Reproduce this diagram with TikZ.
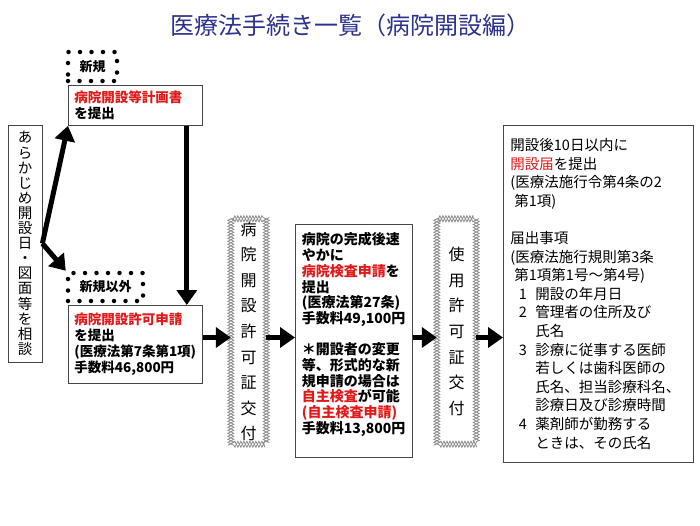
\documentclass[tikz,border=0pt]{standalone}
\usepackage{fontspec}
\setmainfont{Noto Sans CJK JP}
\usetikzlibrary{arrows.meta,positioning,decorations.pathmorphing}
\definecolor{titleblue}{RGB}{45,50,140}
\definecolor{applred}{RGB}{225,25,25}
\definecolor{framegray}{RGB}{70,70,70}
\definecolor{zaggray}{RGB}{140,140,140}

\begin{document}
\begin{tikzpicture}[x=1pt,y=-1pt,
  box/.style={draw=framegray,line width=0.8pt,fill=white,align=left,inner ysep=0pt},
  note/.style={box,font=\fontsize{13.5}{16}\selectfont\bfseries},
  dotbox/.style={draw,line width=4.5pt,dash pattern=on 0pt off 11.5pt,line cap=round,inner sep=0pt,font=\fontsize{13}{15}\selectfont\bfseries},
  zig/.style={draw=zaggray,line width=0.8pt,decorate,decoration={zigzag,amplitude=3pt,segment length=6pt}},
  zag/.style={zig,decoration={zigzag,amplitude=-3pt,segment length=6pt}},
  flow/.style={-{Triangle[length=15pt,width=20pt]},line width=5pt},
  upright/.style={font=\fontsize{16}{25.6}\selectfont,align=center,inner sep=0pt}]
\useasboundingbox (0,0) rectangle (700,525);

\node[font=\fontsize{24}{28}\selectfont,text=titleblue] (title) at (350,25) {医療法手続き一覧（病院開設編）};

% left column
\node[box,align=center,inner sep=0pt,minimum width=34pt,minimum height=237pt,font=\fontsize{14.5}{15.1}\selectfont] (soudan) at (25,243.5)
  {あ\\ら\\か\\じ\\め\\開\\設\\日\\・\\図\\面\\等\\を\\相\\談};
\node[dotbox,minimum width=49pt,minimum height=29pt] (shinki) at (92.5,66.5) {新規};
\node[note,anchor=north west,text width=122pt,inner xsep=6pt,minimum height=40pt] (keikaku) at (68,85)
  {{\color{applred}病院開設等計画書}\\を提出};
\node[dotbox,minimum width=75pt,minimum height=28pt] (igai) at (105.5,287) {新規以外};
\node[note,anchor=north west,text width=122pt,inner xsep=6pt,minimum height=78pt] (shinsei) at (68,305)
  {{\color{applred}病院開設許可申請}\\を提出\\(医療法第7条第1項)\\手数料46,800円};

% certificates (zigzag frames)
\node[upright,minimum width=35pt,minimum height=225pt] (kyoka) at (248.5,331.5)
  {病\\院\\開\\設\\許\\可\\証\\交\\付};
\draw[zig] (kyoka.north west) rectangle (kyoka.south east);
\draw[zag] (kyoka.north west) rectangle (kyoka.south east);

\node[note,anchor=north west,text width=104pt,inner xsep=6.5pt,minimum height=233pt,font=\fontsize{14}{15.7}\selectfont\bfseries] (kensa) at (295,224)
  {病院の完成後速\\やかに\\{\color{applred}病院検査申請}を\\提出\\(医療法第27条)\\手数料49,100円\\[15.7pt]
   ＊開設者の変更\\等、形式的な新\\規申請の場合は\\{\color{applred}自主検査}が可能\\{\color{applred}(自主検査申請)}\\手数料13,800円\\\mbox{}};

\node[upright,minimum width=39pt,minimum height=225pt] (shiyo) at (456.5,331.5)
  {使\\用\\許\\可\\証\\交\\付};
\draw[zig] (shiyo.north west) rectangle (shiyo.south east);
\draw[zag] (shiyo.north west) rectangle (shiyo.south east);

\node[box,anchor=north west,text width=176pt,inner xsep=7pt,minimum height=337pt,font=\fontsize{14.5}{18.6}\selectfont] (todoke) at (503,125)
  {開設後10日以内に\\{\color{applred}開設届}を提出\\(医療法施行令第4条の2\\\hspace*{4pt}第1項)\\[18.6pt]
   届出事項\\(医療法施行規則第3条\\\hspace*{4pt}第1項第1号～第4号)\\
   \makebox[25pt]{1}開設の年月日\\
   \makebox[25pt]{2}管理者の住所及び\\\hspace*{25pt}氏名\\
   \makebox[25pt]{3}診療に従事する医師\\\hspace*{25pt}若しくは歯科医師の\\\hspace*{25pt}氏名、担当診療科名、\\\hspace*{25pt}診療日及び診療時間\\
   \makebox[25pt]{4}薬剤師が勤務する\\\hspace*{25pt}ときは、その氏名};

% arrows
\coordinate (row) at (0,337.5);
\draw[flow] (soudan.east) -- (keikaku.south west);
\draw[flow] (soudan.east) -- (igai.north west);
\draw[flow] ([xshift=-16pt]keikaku.south east) -- ([xshift=-16pt]shinsei.north east);
\draw[flow] (shinsei.east |- row) -- (kyoka.west |- row);
\draw[flow] (kyoka.east |- row) -- (kensa.west |- row);
\draw[flow] (kensa.east |- row) -- (shiyo.west |- row);
\draw[flow] (shiyo.east |- row) -- (todoke.west |- row);
\end{tikzpicture}
\end{document}
